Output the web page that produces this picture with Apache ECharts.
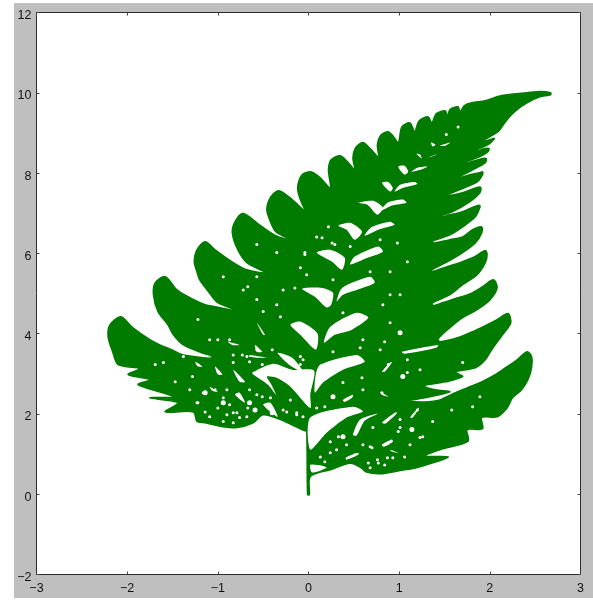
<!DOCTYPE html>
<html>
<head>
<meta charset="utf-8">
<script src="https://cdn.jsdelivr.net/npm/echarts@6/dist/echarts.min.js"></script>
<style>
html, body { margin: 0; padding: 0; background: #fff; }
#main { position: absolute; left: 14px; top: 3px; width: 579px; height: 595px; }
</style>
</head>
<body>
<div id="main"></div>
<script>
// tick labels
var xTicks = [-3, -2, -1, 0, 1, 2, 3];
var yTicks = [-2, 0, 2, 4, 6, 8, 10, 12];

// silhouette of the fern as [x, y]
var fernOutline = [
    [-0.01,-0.01],[0.01,-0.01],[0.02,0.44],[0.24,0.61],[0.46,0.77],[0.58,0.66],[0.63,0.56],[0.79,0.51],[1.01,0.59],[1.19,0.66],
    [1.37,0.78],[1.54,0.93],[1.28,0.95],[1.48,1.13],[1.76,1.32],[1.75,1.61],[1.92,1.63],[1.91,1.91],[2.08,1.93],[2.19,2.15],
    [2.25,2.40],[2.35,2.60],[2.42,2.85],[2.46,3.15],[2.46,3.43],[2.41,3.55],[2.30,3.35],[2.14,3.10],[2.06,2.98],[1.91,2.80],
    [1.75,2.65],[1.59,2.50],[1.45,2.35],[1.28,2.30],[1.10,2.32],[1.34,2.43],[1.56,2.55],[1.40,2.60],[1.27,2.70],[1.51,2.80],
    [1.70,2.93],[1.62,3.05],[1.84,3.15],[1.95,3.35],[2.02,3.60],[2.14,3.97],[2.23,4.27],[2.20,4.50],[2.08,4.35],[1.95,4.20],
    [1.81,4.05],[1.67,3.92],[1.45,3.80],[1.43,3.87],[1.56,4.15],[1.70,4.40],[1.86,4.60],[2.00,4.84],[2.08,5.14],[2.04,5.34],
    [1.92,5.17],[1.78,4.99],[1.64,4.89],[1.48,4.77],[1.37,4.70],[1.37,4.77],[1.56,4.97],[1.70,5.22],[1.86,5.47],[1.95,5.77],
    [1.97,5.97],[1.95,6.07],[1.81,5.89],[1.67,5.77],[1.53,5.67],[1.36,5.54],[1.36,5.59],[1.53,5.79],[1.70,6.02],[1.84,6.26],
    [1.91,6.51],[1.91,6.66],[1.81,6.59],[1.70,6.41],[1.56,6.34],[1.38,6.26],[1.37,6.31],[1.56,6.46],[1.70,6.66],[1.84,6.91],
    [1.89,7.14],[1.89,7.19],[1.86,7.19],[1.70,7.04],[1.56,6.96],[1.43,6.89],[1.43,6.91],[1.59,7.04],[1.78,7.29],[1.89,7.51],
    [1.90,7.64],[1.86,7.64],[1.70,7.51],[1.49,7.41],[1.51,7.44],[1.67,7.59],[1.86,7.78],[1.92,7.96],[1.92,8.03],[1.89,8.01],
    [1.78,7.96],[1.64,7.86],[1.64,7.88],[1.81,8.08],[1.95,8.26],[1.96,8.36],[1.91,8.36],[1.72,8.23],[1.72,8.26],[1.89,8.41],
    [1.98,8.53],[1.99,8.61],[1.95,8.61],[1.83,8.53],[1.83,8.56],[1.98,8.71],[2.05,8.86],[2.00,8.83],[1.89,8.76],[2.09,9.03],
    [2.15,9.21],[2.22,9.41],[2.30,9.58],[2.41,9.75],[2.55,9.90],[2.67,9.95],[2.67,10.00],[2.55,10.03],[2.41,10.00],[2.19,9.95],
    [2.08,9.90],[1.95,9.80],[1.80,9.75],[1.72,9.68],[1.67,9.53],[1.65,9.65],[1.56,9.58],[1.53,9.38],[1.51,9.55],[1.41,9.48],
    [1.36,9.25],[1.32,9.40],[1.22,9.30],[1.17,9.03],[1.12,9.25],[1.03,9.15],[0.99,8.76],[0.93,8.93],[0.88,9.03],[0.80,8.95],
    [0.76,8.71],[0.77,8.41],[0.68,8.61],[0.60,8.76],[0.52,8.63],[0.49,8.38],[0.51,8.08],[0.43,8.28],[0.35,8.43],[0.25,8.33],
    [0.22,8.08],[0.24,7.63],[0.13,7.88],[0.03,8.03],[-0.07,7.96],[-0.12,7.63],[-0.09,7.34],[-0.04,7.06],[-0.18,7.34],[-0.33,7.56],
    [-0.42,7.39],[-0.46,7.09],[-0.42,6.79],[-0.36,6.54],[-0.20,6.34],[-0.36,6.44],[-0.53,6.69],[-0.72,6.99],[-0.81,6.79],[-0.84,6.51],
    [-0.78,6.09],[-0.68,5.77],[-0.48,5.52],[-0.68,5.59],[-0.83,5.77],[-1.03,6.09],[-1.14,6.29],[-1.23,6.09],[-1.26,5.79],[-1.23,5.54],
    [-1.20,5.34],[-1.11,5.07],[-1.00,4.77],[-0.78,4.57],[-1.03,4.67],[-1.14,4.72],[-1.27,4.85],[-1.45,5.09],[-1.58,5.42],[-1.69,5.27],
    [-1.71,4.97],[-1.66,4.55],[-1.55,4.22],[-1.49,3.97],[-1.38,3.72],[-1.06,3.40],[-1.38,3.47],[-1.51,3.60],[-1.64,3.72],[-1.75,3.85],
    [-1.94,4.15],[-2.07,4.42],[-2.19,4.22],[-2.21,3.92],[-2.16,3.55],[-2.10,3.23],[-1.86,3.13],[-1.99,2.98],[-1.75,2.85],[-1.88,2.73],
    [-1.49,2.43],[-1.75,2.40],[-1.44,2.28],[-1.58,2.05],[-1.27,2.05],[-1.23,1.81],[-1.14,1.78],[-0.94,1.68],[-0.79,1.66],[-0.61,1.78],
    [-0.50,1.98],[-0.31,1.86],[-0.04,1.58],[-0.02,1.58]
];

// white openings between the leaflets
var fernGaps = [
    [[0.02,1.91],[0.49,2.18],[0.60,2.06],[0.42,1.91],[0.20,1.53],[0.02,1.11]],
    [[0.02,0.73],[0.15,0.71],[0.20,0.66],[0.04,0.54]],
    [[0.08,2.98],[0.13,3.23],[0.53,3.47],[0.62,3.30],[0.38,3.10],[0.16,2.78],[0.07,2.53]],
    [[0.17,3.77],[0.24,4.17],[0.53,4.52],[0.66,4.40],[0.48,4.10],[0.29,3.97]],
    [[0.31,4.80],[0.37,5.14],[0.68,5.42],[0.73,5.27],[0.53,5.09],[0.38,4.97]],
    [[0.46,5.72],[0.51,5.92],[0.77,6.17],[0.82,6.04],[0.65,5.89]],
    [[0.62,6.44],[0.70,6.66],[0.90,6.79],[0.95,6.71],[0.77,6.59]],
    [[0.80,7.06],[0.87,7.26],[1.04,7.34],[1.08,7.26],[0.92,7.19]],
    [[0.95,7.54],[1.01,7.71],[1.17,7.78],[1.20,7.73],[1.04,7.63]],
    [[1.14,8.03],[1.20,8.13],[1.31,8.16],[1.23,8.08]],
    [[1.31,8.38],[1.43,8.48],[1.36,8.41]],
    [[1.45,8.68],[1.56,8.76],[1.51,8.68]],
    [[-0.62,3.03],[-0.39,3.25],[-0.18,3.10],[0.06,3.08],[0.02,2.48],[0.02,2.15],[-0.20,2.68],[-0.35,2.90],[-0.46,2.93],[-0.41,2.73],[-0.36,2.48],[-0.45,2.73],[-0.61,2.98]],
    [[-0.20,4.22],[-0.09,4.30],[0.10,4.00],[0.08,3.60],[-0.09,3.97]],
    [[-0.34,3.52],[-0.20,3.20],[-0.06,3.05],[-0.18,3.40]],
    [[-0.07,5.12],[0.15,5.14],[0.27,5.02],[0.25,4.72],[0.20,4.65],[0.07,4.92]],
    [[0.09,6.02],[0.24,6.09],[0.40,5.89],[0.37,5.59],[0.26,5.79]],
    [[0.33,6.69],[0.46,6.76],[0.59,6.54],[0.51,6.34],[0.42,6.59]],
    [[0.55,7.26],[0.71,7.31],[0.82,7.14],[0.76,6.96],[0.65,7.21]],
    [[0.81,7.76],[0.88,7.78],[0.93,7.63],[0.90,7.54]],
    [[0.99,8.16],[1.06,8.18],[1.10,8.03],[1.06,7.96]],
    [[1.19,8.48],[1.23,8.46],[1.25,8.36]],
    [[1.35,8.76],[1.40,8.71],[1.37,8.66]],
    [[0.81,1.78],[0.95,2.03],[0.98,2.03],[0.85,1.76]],
    [[1.12,1.91],[1.21,2.15],[1.22,2.15],[1.15,1.91]],
    [[0.49,1.48],[0.57,1.86],[0.77,2.01],[0.62,1.83],[0.53,1.46]],
    [[0.81,3.05],[0.90,3.28],[0.92,3.28],[0.84,3.05]],
    [[1.03,3.55],[1.43,3.72],[1.41,3.65],[1.06,3.50]],
    [[0.81,1.23],[0.92,1.36],[0.93,1.31],[0.83,1.18]],
    [[0.90,1.11],[0.99,1.03],[0.92,1.06]],
    [[0.41,0.91],[0.55,1.03],[0.55,0.98],[0.42,0.86]],
    [[0.79,2.55],[0.88,2.43],[0.81,2.48]],
    [[0.38,2.35],[0.49,2.48],[0.48,2.40],[0.40,2.30]],
    [[-0.65,3.47],[-0.46,3.40],[-0.65,3.42]],
    [[-1.31,3.55],[-1.06,3.43],[-1.31,3.50]],
    [[-1.03,3.18],[-0.95,2.98],[-1.00,2.98]],
    [[-0.83,3.10],[-0.70,2.80],[-0.76,2.80]],
    [[-1.25,3.30],[-1.17,3.18],[-1.22,3.18]],
    [[-1.09,2.68],[-1.00,2.55],[-1.06,2.58]],
    [[-0.89,3.80],[-0.76,3.72],[-0.84,3.72]],
    [[-0.59,3.72],[-0.51,3.55],[-0.57,3.55]],
    [[-0.50,2.23],[-0.34,1.93],[-0.42,2.28]],
    [[-0.81,2.48],[-0.70,2.28],[-0.76,2.53]],
    [[-0.57,4.27],[-0.48,3.97],[-0.50,3.97]]
];

// white holes in the speckled part of the leaf
var bigHoles = [
    [1.14,1.61],[1.04,2.93],[1.01,4.02],[-1.14,2.53],[-0.94,2.28],[-0.65,2.28],[0.38,1.43],[-0.40,2.03],
    [0.27,2.43],[-0.59,2.10]
];
var smallHoles = [
    [-1.03,2.60],[-0.79,2.03],[-0.90,1.98],[-0.68,1.93],[-1.14,2.05],[-1.31,2.60],[-1.28,2.93],[-0.94,1.81],[-0.83,1.78],[-1.09,1.93],
    [-1.23,2.28],[-1.47,2.80],[-1.60,3.28],[-1.69,3.23],[-0.57,3.60],[-0.68,3.43],[-0.83,3.47],[-0.87,3.85],[-1.00,3.85],[-1.09,3.85],
    [-1.22,4.35],[-1.38,3.43],[-0.35,4.72],[-0.57,4.85],[-0.50,4.55],[-0.31,4.42],[-0.72,5.09],[-0.28,5.09],[-0.57,5.42],[-0.09,5.64],
    [-0.15,5.14],[-0.06,3.35],[-0.20,2.35],[-0.13,2.03],[-0.06,1.93],[-0.28,2.10],[-0.09,3.43],[1.58,2.10],[1.81,2.18],[1.23,1.41],
    [0.68,1.18],[0.81,2.53],[0.60,2.60],[0.31,1.11],[0.51,0.98],[0.77,0.78],[0.87,0.91],[1.01,1.86],[1.37,1.81],[1.20,2.10],
    [0.59,2.90],[0.38,2.78],[0.18,2.18],[0.09,2.15],[0.99,1.56],[0.66,0.78],[1.09,3.03],[1.89,2.43],[1.09,3.35],[0.88,3.23],
    [1.23,3.10],[1.70,3.28],[0.84,3.80],[0.90,4.27],[0.82,4.72],[1.01,4.97],[0.90,4.97],[0.68,5.54],[0.90,5.54],[1.09,5.79],
    [0.79,6.34],[0.98,6.26],[0.29,6.22],[0.46,6.17],[0.79,3.60],[0.57,3.65],[0.27,3.55],[0.38,4.52],[0.60,3.85],[0.27,5.34],
    [-0.02,5.47],[-0.04,6.02],[0.09,6.41],[-0.35,6.02],[-0.04,5.97],[0.15,6.39],[-0.67,5.17],[-0.94,5.42],[0.26,6.26],[0.22,6.66],
    [-0.57,6.22],[1.52,8.96],[1.65,9.15],
    [-1.16,2.53],[-0.87,2.23],[-1.00,2.15],[-0.83,2.03],[-0.76,1.91],[-0.67,2.15],[-0.57,2.48],[-0.24,2.05],[-0.13,1.98],[-0.65,3.30],
    [-0.51,3.23],[-0.73,3.47],[-0.83,3.28],[-0.40,3.60],[-0.09,3.23],[-0.90,2.60],[-1.22,2.28],[-0.94,2.40],[-0.65,2.60],[-0.51,2.43],
    [-0.42,2.40],[0.24,1.31],[0.33,1.43],[0.42,1.23],[0.60,1.23],[0.70,1.16],[0.76,0.86],[0.84,0.73],[0.68,0.66],[0.93,0.91],
    [1.06,0.93],[1.12,1.23],[1.26,1.43],[1.01,1.66],[0.71,1.66],[0.24,1.03],[0.18,0.81],[0.13,0.93]
];

var green = '#007b00';

function minus(v) {
    return String(v).replace('-', '\u2212');
}

function polygonItem(points, api, color, stroke, smooth) {
    return {
        type: 'polygon',
        shape: { points: points.map(function (p) { return api.coord(p); }), smooth: smooth },
        style: { fill: color, stroke: stroke, lineWidth: stroke ? 1.5 : 0, lineJoin: 'round' }
    };
}

function makeXAxis(position, showLabel) {
    return {
        type: 'value', position: position, min: xTicks[0], max: xTicks[xTicks.length - 1], interval: 1,
        splitLine: { show: false },
        axisLine: { onZero: false, lineStyle: { color: '#2b2b2b', width: 1 } },
        axisTick: { inside: true, length: 3, lineStyle: { color: '#444' } },
        axisLabel: { show: showLabel, margin: 8, color: '#111', fontSize: 12.5, fontFamily: 'Liberation Sans', formatter: minus, hideOverlap: false }
    };
}

function makeYAxis(position, showLabel) {
    return {
        type: 'value', position: position, min: yTicks[0], max: yTicks[yTicks.length - 1], interval: 2,
        splitLine: { show: false },
        axisLine: { onZero: false, lineStyle: { color: '#2b2b2b', width: 1 } },
        axisTick: { inside: true, length: 3, lineStyle: { color: '#444' } },
        axisLabel: { show: showLabel, margin: 5, verticalAlign: 'top', lineHeight: 6, color: '#111', fontSize: 12.5, fontFamily: 'Liberation Sans', formatter: minus, hideOverlap: false }
    };
}

var myChart = echarts.init(document.getElementById('main'), null, { renderer: 'canvas' });

var option = {
    animation: false,
    backgroundColor: '#bfbfbf',
    grid: { left: 22.5, top: 9.5, width: 544, height: 562, show: true, backgroundColor: '#fff', borderWidth: 0 },
    xAxis: [makeXAxis('bottom', true), makeXAxis('top', false)],
    yAxis: [makeYAxis('left', true), makeYAxis('right', false)],
    series: [
        {
            type: 'custom', coordinateSystem: 'cartesian2d', silent: true, data: [[0, 0]], z: 2,
            renderItem: function (params, api) {
                return polygonItem(fernOutline, api, green, green, 0.3);
            }
        },
        {
            type: 'custom', coordinateSystem: 'cartesian2d', silent: true, z: 3,
            data: fernGaps.map(function (g) { return g[0]; }),
            renderItem: function (params, api) {
                return polygonItem(fernGaps[params.dataIndex], api, '#fff', null, 0.25);
            }
        },
        { type: 'scatter', data: bigHoles, symbolSize: 5, silent: true, z: 4, itemStyle: { color: '#fff', opacity: 1 } },
        { type: 'scatter', data: smallHoles, symbolSize: 3, silent: true, z: 4, itemStyle: { color: '#fff', opacity: 1 } }
    ]
};

myChart.setOption(option);
</script>
</body>
</html>
